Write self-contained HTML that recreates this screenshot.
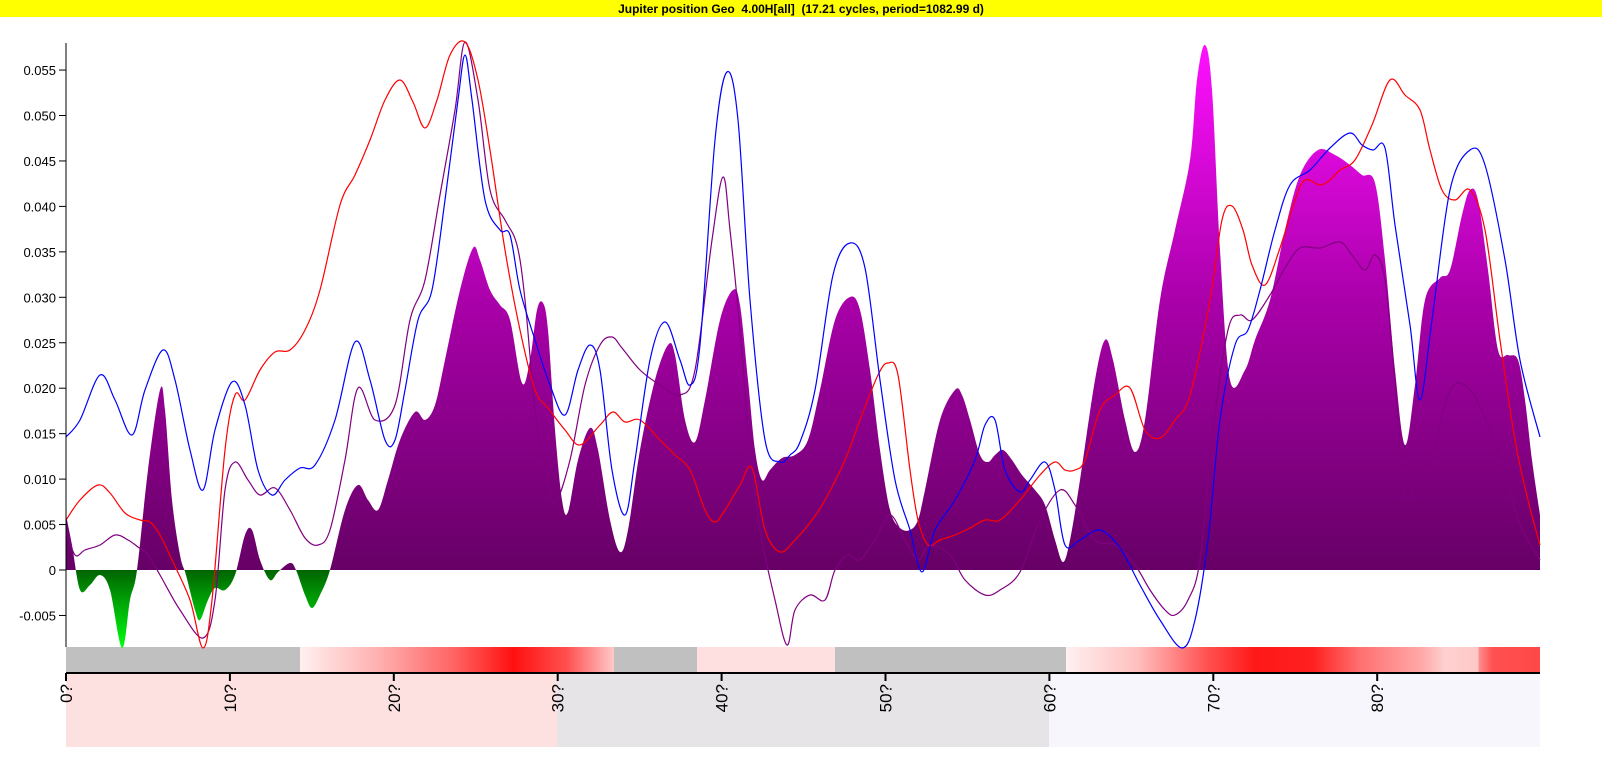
<!DOCTYPE html>
<html><head><meta charset="utf-8"><style>
body{margin:0;background:#fff;width:1602px;height:763px;overflow:hidden;font-family:"Liberation Sans",sans-serif}
svg{display:block}
</style></head><body>
<svg id="s" width="1602" height="763" xmlns="http://www.w3.org/2000/svg">
<defs>
<linearGradient id="pg" gradientUnits="userSpaceOnUse" x1="0" y1="43" x2="0" y2="570">
<stop offset="0" stop-color="#ff10ff"/><stop offset="0.5" stop-color="#a800a8"/><stop offset="1" stop-color="#660066"/></linearGradient>
<linearGradient id="gg" gradientUnits="userSpaceOnUse" x1="0" y1="570" x2="0" y2="648">
<stop offset="0" stop-color="#006400"/><stop offset="1" stop-color="#00ff10"/></linearGradient>
<clipPath id="ca"><rect x="0" y="0" width="1602" height="570"/></clipPath>
<clipPath id="cb"><rect x="0" y="570" width="1602" height="100"/></clipPath>
<linearGradient id="r1" x1="0" x2="1" y1="0" y2="0">
<stop offset="0" stop-color="#fff0f0"/><stop offset="0.25" stop-color="#ffb0b0"/><stop offset="0.5" stop-color="#ff6060"/><stop offset="0.68" stop-color="#ff1010"/><stop offset="0.85" stop-color="#ff5050"/><stop offset="1" stop-color="#ffc8c8"/></linearGradient>
<linearGradient id="r2" x1="0" x2="1" y1="0" y2="0">
<stop offset="0" stop-color="#fff0f0"/><stop offset="0.15" stop-color="#ffc0c0"/><stop offset="0.3" stop-color="#ff5050"/><stop offset="0.4" stop-color="#ff1818"/><stop offset="0.52" stop-color="#ff2020"/><stop offset="0.62" stop-color="#ff7070"/><stop offset="0.75" stop-color="#ffa8a8"/><stop offset="0.8" stop-color="#ffd0d0"/><stop offset="0.87" stop-color="#ffc8c8"/><stop offset="0.87" stop-color="#ff9090"/><stop offset="0.9" stop-color="#ff5050"/><stop offset="1" stop-color="#ff4848"/></linearGradient>
</defs>
<rect x="0" y="0" width="1602" height="17" fill="#ffff00"/>
<text x="801" y="13" font-size="12" font-weight="bold" text-anchor="middle" style="white-space:pre">Jupiter position Geo  4.00H[all]  (17.21 cycles, period=1082.99 d)</text>
<rect x="66" y="673" width="491" height="74" fill="#fde0e0"/>
<rect x="557" y="673" width="492" height="74" fill="#e6e4e6"/>
<rect x="1049" y="673" width="491" height="74" fill="#f6f6fc"/>
<rect x="66" y="647" width="234" height="25" fill="#c0c0c0"/>
<rect x="300" y="647" width="314" height="25" fill="url(#r1)"/>
<rect x="614" y="647" width="83" height="25" fill="#c0c0c0"/>
<rect x="697" y="647" width="138" height="25" fill="#ffe0e0"/>
<rect x="835" y="647" width="231" height="25" fill="#c0c0c0"/>
<rect x="1066" y="647" width="474" height="25" fill="url(#r2)"/>
<g id="plot"></g>
<line x1="66" y1="43" x2="66" y2="647" stroke="#000"/>
<line x1="66" y1="673" x2="1540" y2="673" stroke="#000" stroke-width="2"/>
<g id="ax" font-size="13"></g>
</svg>
<script>
function cr(p){let d="M"+p[0][0]+","+p[0][1];for(let i=0;i<p.length-1;i++){const a=p[i-1]||p[i],b=p[i],c=p[i+1],e=p[i+2]||c;d+=" C"+(b[0]+(c[0]-a[0])/6)+","+(b[1]+(c[1]-a[1])/6)+" "+(c[0]-(e[0]-b[0])/6)+","+(c[1]-(e[1]-b[1])/6)+" "+c[0]+","+c[1];}return d;}
function P(s){return s.split(/[;\s]+/).filter(x=>x).map(t=>t.split(",").map(Number));}
const F=P("66,515;72,545;80,590;90,585;100,575;110,590;122,648;130,600;137,570;148,470;160,390;165,410;172,500;180,555;186,575;195,610;200,620;208,600;215,588;225,590;235,575;245,535;252,530;260,560;270,580;278,572;290,563;296,570;305,595;312,608;320,595;330,570;345,510;358,485;368,500;378,510;388,480;400,440;415,412;425,420;435,405;445,360;460,290;473,248;480,260;490,290;500,305;510,320;522,383;530,360;537,310;543,303;548,330;555,430;562,500;568,512;578,460;590,428;598,450;610,520;620,552;628,530;640,450;655,380;668,345;675,355;685,420;695,442;705,400;720,320;733,290;740,305;748,380;755,450;762,480;770,470;782,458;795,455;808,440;820,390;835,320;850,297;860,310;870,370;880,450;890,510;900,528;910,530;918,520;925,490;940,420;955,390;962,395;970,420;980,455;988,462;995,455;1003,450;1012,460;1022,475;1035,490;1045,505;1055,540;1063,562;1070,540;1080,480;1095,380;1105,340;1113,360;1125,420;1135,452;1145,420;1160,300;1175,230;1190,160;1197,80;1205,45;1212,90;1220,250;1230,380;1245,370;1255,340;1270,300;1285,230;1300,175;1318,150;1335,155;1350,165;1362,175;1375,183;1385,260;1395,370;1405,445;1415,385;1425,300;1440,278;1450,270;1462,215;1470,190;1478,200;1488,270;1498,350;1508,355;1518,360;1525,400;1532,460;1540,515");
const B=P("66,437;80,420;100,375;115,400;132,435;145,390;163,350;175,380;190,450;203,490;215,430;232,382;245,405;258,470;272,495;285,480;300,468;315,465;335,420;355,342;370,380;385,440;395,440;405,390;418,320;432,290;445,200;458,100;465,55;472,100;485,200;500,230;510,235;520,290;535,340;550,385;565,415;578,370;590,345;600,370;612,470;625,515;635,460;650,360;665,322;680,360;690,385;700,345;715,140;727,72;738,120;750,300;765,440;780,462;790,455;800,442;815,390;833,275;850,243;865,268;880,380;895,480;910,530;922,572;935,530;955,500;975,460;985,425;995,420;1005,470;1020,492;1030,480;1045,462;1055,490;1065,545;1080,540;1100,530;1120,548;1140,585;1160,620;1182,648;1195,620;1208,540;1220,420;1235,345;1248,330;1260,290;1275,230;1290,185;1310,170;1330,148;1350,133;1362,145;1373,150;1385,148;1395,225;1410,325;1420,400;1432,320;1450,190;1470,150;1485,165;1505,260;1520,360;1540,437");
const R=P("66,520;80,500;98,485;110,493;125,513;140,520;150,522;160,535;172,560;190,600;203,648;212,600;225,450;235,395;245,400;260,370;275,352;290,350;305,330;320,290;340,205;355,175;370,140;385,100;400,80;413,102;425,128;437,100;450,55;465,42;478,80;490,150;505,250;520,330;535,390;548,408;565,430;580,445;600,425;613,412;625,422;640,420;660,440;675,455;690,470;705,510;715,522;725,510;740,485;752,468;765,530;780,552;795,540;812,520;825,500;845,460;860,420;878,375;888,363;898,375;910,470;918,520;928,545;940,540;955,535;970,528;985,520;1000,520;1020,500;1040,475;1055,462;1065,470;1075,470;1085,460;1100,410;1115,395;1130,388;1145,430;1160,438;1175,420;1190,395;1210,300;1222,220;1232,206;1243,230;1252,265;1265,285;1280,248;1295,200;1305,180;1320,185;1330,180;1340,170;1355,160;1372,125;1390,80;1405,95;1420,110;1430,150;1442,190;1455,200;1470,190;1485,230;1500,340;1515,440;1528,500;1540,545");
const M=P("66,530;75,555;85,550;100,545;115,535;128,540;138,547;148,555;160,575;180,610;203,638;215,600;225,490;235,462;248,480;260,495;275,488;290,510;305,538;318,545;330,530;345,460;358,388;375,420;395,405;410,320;425,280;440,195;455,110;465,42;478,100;490,190;505,220;517,245;525,300;535,410;545,470;555,502;570,460;585,385;600,345;612,337;622,348;640,370;660,385;680,395;695,370;712,240;723,177;730,230;740,330;750,450;760,530;775,600;787,645;795,610;810,595;825,600;835,570;848,555;860,560;875,540;890,515;905,540;918,560;930,545;950,555;965,580;985,595;1000,590;1020,572;1040,520;1060,490;1075,505;1095,540;1115,545;1135,565;1150,590;1165,610;1175,615;1188,600;1200,560;1213,430;1228,330;1240,315;1252,320;1270,295;1285,268;1300,248;1320,248;1340,242;1352,255;1365,270;1375,255;1385,280;1395,380;1405,495;1418,480;1432,460;1450,390;1470,390;1490,430;1505,475;1520,525;1540,560");
const ns="http://www.w3.org/2000/svg",g=document.getElementById("plot");
function add(tag,at){const e=document.createElementNS(ns,tag);for(const k in at)e.setAttribute(k,at[k]);return e;}
const fd=cr(F)+" L1540,570 L66,570 Z";
g.appendChild(add("path",{d:fd,fill:"url(#pg)","clip-path":"url(#ca)"}));
g.appendChild(add("path",{d:fd,fill:"url(#gg)","clip-path":"url(#cb)"}));
g.appendChild(add("path",{d:cr(M),fill:"none",stroke:"#800080","stroke-width":"1.2"}));
g.appendChild(add("path",{d:cr(R),fill:"none",stroke:"#ff0000","stroke-width":"1.2"}));
g.appendChild(add("path",{d:cr(B),fill:"none",stroke:"#0000ff","stroke-width":"1.2"}));
const ax=document.getElementById("ax");
for(let v=-5;v<=55;v+=5){const y=570-v*9.09;ax.appendChild(add("line",{x1:59,x2:66,y1:y,y2:y,stroke:"#000"}));
const t=add("text",{x:56,y:y+5,"text-anchor":"end"});t.textContent=v==0?"0":(v/1000).toFixed(3);ax.appendChild(t);}
for(let i=0;i<9;i++){const x=66+i*163.9;ax.appendChild(add("line",{x1:x,x2:x,y1:673,y2:681,stroke:"#000","stroke-width":"2"}));
const t=add("text",{x:0,y:0,"font-size":"17",transform:"translate("+(x+6)+",684) rotate(-90)","text-anchor":"end"});t.textContent=(i*10)+"?";ax.appendChild(t);}
</script>
</body></html>
